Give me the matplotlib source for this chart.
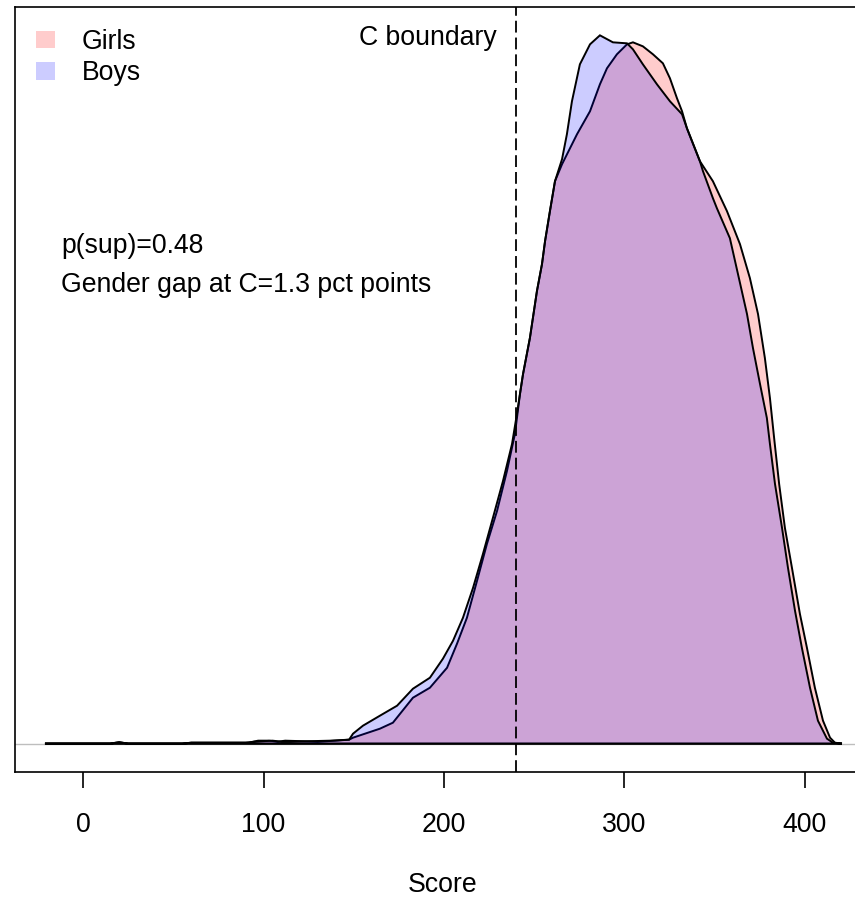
import matplotlib
matplotlib.use("Agg")
import matplotlib.pyplot as plt
from matplotlib.patches import Patch
import numpy as np

plt.rcParams['font.family'] = ['Liberation Sans', 'DejaVu Sans']
plt.rcParams['lines.scale_dashes'] = False

# ---- data (density curves, scaled density units) ----
boys_score = [-21.1, 15, 20, 25, 55, 60, 90, 95, 105, 110, 115, 137, 147.4,
              149.6, 155.1, 164.5, 174.0, 182.8, 192.2, 199.4, 205.0, 210.5, 216.1,
              221.6, 227.1, 232.7, 237.7, 240.4, 243.8, 247.6, 251.5, 254.3, 256.0,
              258.7, 261.5, 265.4, 268.1, 270.9, 275.3, 280.9, 286.4, 293.6, 301.4,
              304.7, 310.2, 318.0, 325.2, 331.9, 334.6, 341.8, 343.5, 349.0, 351.2,
              358.4, 362.9, 367.9, 371.2, 375.1, 378.9, 380.6, 383.4, 387.3, 390.6,
              394.5, 398.3, 402.8, 407.2, 412.2, 415.5, 420.5]
boys_dens = [0, 0, 1.5, 0, 0, 1, 1, 2, 3, 2, 2, 3, 4,
             10, 18, 28, 38, 55, 66, 85, 103, 126, 156,
             190, 226, 263, 300, 330, 370, 406, 453, 480, 503,
             533, 563, 585, 610, 643, 680, 700, 709, 702, 701,
             695, 680, 660, 643, 630, 616, 583, 573, 546, 536,
             506, 470, 430, 396, 360, 326, 300, 260, 216, 176,
             133, 96, 56, 23, 5, 1, 0]

girls_score = [-21.1, 15, 20, 25, 55, 60, 92, 97, 103, 108, 112, 130, 140, 147.4,
               149.6, 164.5, 171.7, 182.8, 192.2, 201.7, 207.2, 212.7, 218.3, 223.8,
               229.4, 234.9, 239.3, 242.1, 243.8, 247.6, 251.5, 254.3, 256.0, 258.7,
               261.5, 265.4, 273.7, 280.9, 286.4, 290.3, 295.8, 301.4, 304.7, 310.2,
               315.8, 321.3, 325.2, 329.1, 331.9, 334.6, 341.8, 349.0, 356.8, 364.0,
               369.5, 374.0, 377.8, 380.6, 383.1, 385.7, 388.9, 392.8, 397.2, 401.1,
               405.5, 410.0, 413.9, 416.6, 420.5]
girls_dens = [0, 0, 1.5, 0, 0, 1, 1, 3, 3, 2, 3, 2, 3, 4,
              6, 15, 21, 46, 56, 76, 100, 126, 163, 200,
              233, 273, 310, 350, 370, 406, 453, 480, 503, 533,
              563, 580, 610, 633, 660, 676, 690, 700, 702, 698,
              690, 681, 666, 646, 633, 616, 583, 563, 533, 500,
              466, 430, 386, 346, 303, 260, 216, 176, 130, 96,
              56, 23, 6, 1, 0]

series_labels = ["Girls", "Boys"]
c_boundary = 240
x_ticks = [0, 100, 200, 300, 400]
x_label = "Score"
annot_lines = ["p(sup)=0.48", "Gender gap at C=1.3 pct points"]
boundary_label = "C boundary"

# ---- figure ----
W, H = 855, 897
FS = 19.2
fig = plt.figure(figsize=(W / 100, H / 100), dpi=100)
ax = fig.add_axes([15 / W, (H - 772) / H, 856 / W, (772 - 7) / H])

girls_fc = (1, 0, 0, 0.2)
boys_fc = (0, 0, 1, 0.2)

ax.fill(girls_score, girls_dens, facecolor=girls_fc, edgecolor='black', lw=1.4)
ax.fill(boys_score, boys_dens, facecolor=boys_fc, edgecolor='black', lw=1.4)

ymax = max(max(boys_dens), max(girls_dens))
ax.set_ylim(-0.04 * ymax, 1.04 * ymax)
ax.set_xlim(-37.7, 436.6)

ax.axhline(0, color='#BEBEBE', lw=1.0, zorder=0)
ax.axvline(c_boundary, color='black', lw=1.3, linestyle=(0, (8.5, 3.6)))

ax.set_yticks([])
ax.set_xticks(x_ticks)
ax.tick_params(axis='x', length=11.5, width=1.2, pad=17, labelsize=FS)
ax.set_xlabel(x_label, fontsize=FS, labelpad=25)
for s in ax.spines.values():
    s.set_linewidth(1.2)

ax.annotate(boundary_label, xy=(c_boundary, 706), xytext=(-14, 0),
            textcoords='offset points', ha='right', va='center', fontsize=FS)

ax.text(-12.2, 498, annot_lines[0], ha='left', va='center', fontsize=FS)
ax.text(-12.2, 459, annot_lines[1], ha='left', va='center', fontsize=FS)

handles = [Patch(facecolor=girls_fc, edgecolor='none'),
           Patch(facecolor=boys_fc, edgecolor='none')]
ax.legend(handles, series_labels, loc='upper left',
          bbox_to_anchor=(36 / W, (H - 29) / H), bbox_transform=fig.transFigure,
          frameon=False, fontsize=FS, borderpad=0, borderaxespad=0,
          handlelength=0.72, handleheight=0.64, handletextpad=1.0,
          labelspacing=0.19)

fig.savefig("out.png", dpi=100)
